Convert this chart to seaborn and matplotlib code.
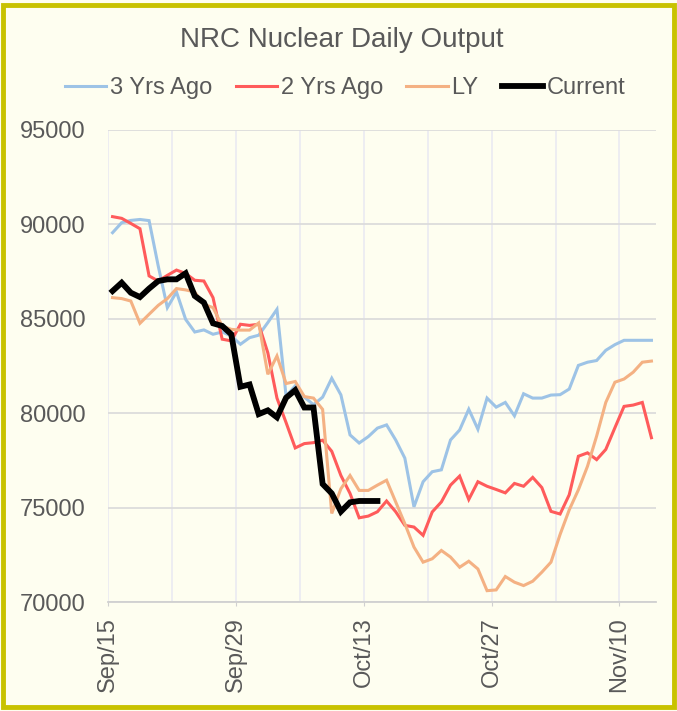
import numpy as np
import pandas as pd
import matplotlib
matplotlib.use('Agg')
import matplotlib.pyplot as plt
import matplotlib.ticker as mticker
from matplotlib.patches import Rectangle
import seaborn as sns

# daily values, Sep 15 -> Nov 13
dates = pd.date_range('2018-09-15', periods=60, freq='D')

yrs3_ago = [89560, 90090, 90210, 90260, 90200, 87800, 85590, 86420, 84970, 84300,
            84410, 84180, 84300, 84090, 83650, 84000, 84130, 84800, 85500, 80900,
            81450, 80850, 80450, 80850, 81850, 80970, 78850, 78420, 78760, 79210,
            79380, 78580, 77620, 75040, 76370, 76900, 77000, 78580, 79110, 80210,
            79150, 80800, 80320, 80570, 79860, 81030, 80800, 80800, 80960, 80980,
            81280, 82530, 82700, 82790, 83330, 83630, 83860, 83860, 83860, 83860]

yrs2_ago = [90410, 90320, 90050, 89770, 87270, 87000, 87300, 87580, 87400, 87040,
            87000, 86120, 83920, 83830, 84710, 84650, 84710, 83200, 80800, 79500,
            78160, 78390, 78440, 78570, 77980, 76700, 75750, 74460, 74550, 74780,
            75350, 74780, 74060, 73970, 73530, 74770, 75300, 76190, 76670, 75430,
            76370, 76130, 75960, 75780, 76280, 76130, 76600, 76060, 74800, 74660,
            75680, 77720, 77900, 77540, 78080, 79230, 80360, 80430, 80570, 78700]

last_year = [86120, 86070, 85940, 84760, 85240, 85710, 86070, 86600, 86530, 86420,
             85770, 85590, 84620, 84440, 84400, 84400, 84780, 82060, 83030, 81570,
             81680, 80880, 80800, 80200, 74690, 76000, 76700, 75910, 75910, 76190,
             76450, 75300, 74150, 72910, 72110, 72290, 72730, 72380, 71840, 72160,
             71750, 70600, 70640, 71350, 71050, 70870, 71100, 71580, 72110, 73580,
             74880, 75940, 77190, 78790, 80570, 81640, 81810, 82170, 82700, 82760]

current = [86470, 86910, 86380, 86150, 86600, 87000, 87090, 87090, 87410, 86210,
           85860, 84760, 84620, 84180, 81400, 81520, 79950, 80150, 79780, 80820,
           81220, 80300, 80300, 76250, 75750, 74790, 75280, 75350, 75350, 75350]

bg = '#FEFEF0'
txt = '#595959'
grid_c = '#DCDCDC'

plt.rcParams['font.family'] = ['Liberation Sans', 'DejaVu Sans']

fig = plt.figure(figsize=(6.77, 7.11), dpi=100, facecolor=bg)
ax = fig.add_axes([0.1595, 0.1533, 0.8095, 0.6639])
ax.set_facecolor(bg)

day = np.arange(len(dates))
series = [('3 Yrs Ago', yrs3_ago, '#9DC3E6', 2.2),
          ('2 Yrs Ago', yrs2_ago, '#FF5B5B', 2.2),
          ('LY', last_year, '#F4B183', 2.2),
          ('Current', current, 'black', 4.2)]
for name, vals, col, lw in series:
    sns.lineplot(x=day[:len(vals)], y=vals, ax=ax, color=col, linewidth=lw,
                 label=name, solid_joinstyle='miter')

ax.set_xlim(-0.5, 59.5)
ax.set_ylim(70000, 95000)
ax.set_xticks(np.arange(-0.5, 60, 14))
ax.set_xticklabels(dates[::14].strftime('%b/%d'), rotation=90)
ax.set_xticks(np.arange(-0.5, 60, 7), minor=True)
ax.set_yticks(np.arange(70000, 95001, 5000))
ax.yaxis.set_major_formatter(mticker.StrMethodFormatter('{x:.0f}'))

ax.grid(True, axis='y', color=grid_c, linewidth=1.3)
ax.grid(True, axis='x', which='both', color='#ECECF2', linewidth=1.3)
ax.set_axisbelow(True)
for s in ['top', 'right', 'left']:
    ax.spines[s].set_visible(False)
ax.spines['bottom'].set_color('#D0D0D0')
ax.spines['bottom'].set_linewidth(1.3)
ax.tick_params(axis='x', which='major', length=3, color='#D0D0D0', pad=8,
               labelsize=17, labelcolor=txt)
ax.tick_params(axis='x', which='minor', length=0)
ax.tick_params(axis='y', length=0, pad=16, labelsize=17, labelcolor=txt)
ax.set_xlabel('')
ax.set_ylabel('')

ax.legend_.remove()
handles, labels = ax.get_legend_handles_labels()
fig.legend(handles, labels, loc='center', bbox_to_anchor=(0.51, 0.876), ncol=4,
           frameon=False, fontsize=17, labelcolor=txt, handlelength=1.75,
           handletextpad=0.15, columnspacing=1.0)
fig.text(0.505, 0.944, 'NRC Nuclear Daily Output', ha='center', va='center',
         fontsize=20, color=txt)

fig.patches.append(Rectangle((0.005, 0.005), 0.99, 0.988, transform=fig.transFigure,
                             fill=False, edgecolor='#C8C200', linewidth=3.5))

fig.savefig('out.png', dpi=100, facecolor=bg)
